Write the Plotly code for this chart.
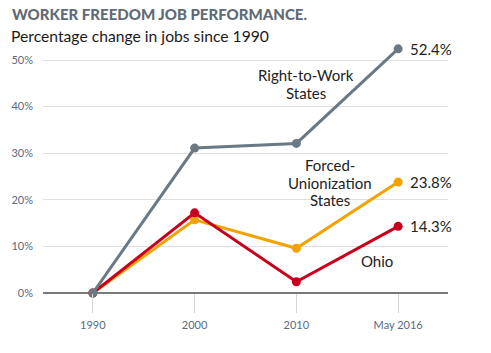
import plotly.graph_objects as go

categories = ["1990", "2000", "2010", "May 2016"]
right_to_work = [0, 31.1, 32.1, 52.4]
forced_union = [0, 15.7, 9.6, 23.8]
ohio = [0, 17.2, 2.4, 14.3]
y_ticks = [0, 10, 20, 30, 40, 50]
y_tick_labels = ["0%", "10%", "20%", "30%", "40%", "50%"]

GRAY = "#6b7984"
ORANGE = "#f2a300"
RED = "#c8001e"
FONT = "Lato"

xs = list(range(len(categories)))
fig = go.Figure()
for vals, col in [(forced_union, ORANGE), (ohio, RED), (right_to_work, GRAY)]:
    fig.add_trace(go.Scatter(x=xs, y=vals, mode="lines+markers",
                             line=dict(color=col, width=3),
                             marker=dict(color=col, size=9),
                             cliponaxis=False, showlegend=False, hoverinfo="skip"))

ann_font = dict(family=FONT, size=15, color="#222222")
anns = [
    dict(x=3, y=right_to_work[3], text="52.4%", xanchor="left", xshift=10, showarrow=False, font=ann_font),
    dict(x=3, y=forced_union[3], text="23.8%", xanchor="left", xshift=10, showarrow=False, font=ann_font),
    dict(x=3, y=ohio[3], text="14.3%", xanchor="left", xshift=10, showarrow=False, font=ann_font),
    dict(x=2.79, y=6.9, text="Ohio", showarrow=False, font=ann_font),
]
LS = 17.5
for i, line in enumerate(["Right-to-Work", "States"]):
    anns.append(dict(x=2.094, y=44.8, text=line, showarrow=False, font=ann_font,
                     yshift=(0.5 - i) * LS))
for i, line in enumerate(["Forced-", "Unionization", "States"]):
    anns.append(dict(x=2.33, y=23.7, text=line, showarrow=False, font=ann_font,
                     yshift=(1 - i) * LS))
for a in anns:
    a.update(xref="x", yref="y")

T = 41
B = 60
PH = 353 - T - B
PX_PER_UNIT = 233 / 50.0
ytop = PH / PX_PER_UNIT

fig.update_layout(
    width=491, height=353,
    margin=dict(l=43, r=43, t=T, b=B),
    paper_bgcolor="white", plot_bgcolor="white",
    font=dict(family=FONT),
    annotations=anns + [
        dict(xref="paper", yref="paper", x=-33/405, y=1 + (T - 14)/PH, xanchor="left", yanchor="middle",
             text="WORKER FREEDOM JOB PERFORMANCE.", showarrow=False,
             font=dict(family=FONT, size=15, color="#5f6b76", weight=900)),
        dict(xref="paper", yref="paper", x=-34/405, y=1 + (T - 36)/PH, xanchor="left", yanchor="middle",
             text="Percentage change in jobs since 1990", showarrow=False,
             font=dict(family=FONT, size=15.7, color="#1a1a1a")),
    ],
    xaxis=dict(
        range=[-0.49, 3.49], tickvals=xs, ticktext=categories,
        showgrid=False, zeroline=False, showline=False,
        ticks="outside", ticklen=19, tickcolor="#d6d6d6", tickwidth=1,
        tickfont=dict(family=FONT, size=11, color="#5a6a80"),
        ticklabelstandoff=3,
    ),
    yaxis=dict(
        range=[0, ytop], tickvals=y_ticks, ticktext=y_tick_labels,
        showgrid=True, gridcolor="#e0e0e0", gridwidth=1,
        zeroline=True, zerolinecolor="#7a7a7a", zerolinewidth=1.5,
        showline=False, ticks="",
        tickfont=dict(family=FONT, size=11, color="#5a6a80"),
        ticklabelstandoff=9,
    ),
)

fig.write_html("out.html")
